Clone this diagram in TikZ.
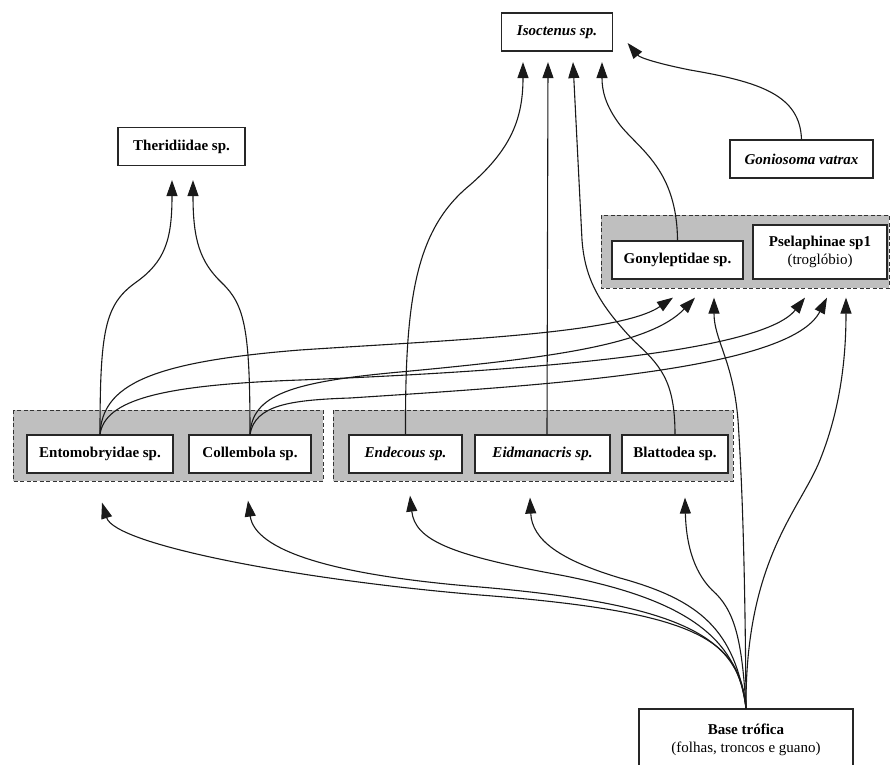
\documentclass[tikz,border=0pt]{standalone}
\usepackage{fontspec}
\setmainfont{Liberation Serif}
\usetikzlibrary{arrows.meta}

\tikzset{
  taxon/.style = {draw = black!85, fill = white, line width = 1.2pt,
    minimum height = 38pt, inner sep = 2pt, align = center,
    font = \fontsize{15}{18}\selectfont\bfseries},
  cluster/.style = {draw = black!80, fill = black!25, line width = 0.8pt,
    dash pattern = on 4pt off 2.5pt},
  edge/.style = {draw = black!90, line width = 1.1pt,
    -{Triangle[length = 16pt, width = 11pt]}}
}

\begin{document}
\begin{tikzpicture}[x = 1pt, y = -1pt]

  \useasboundingbox (0, 0) rectangle (892, 765);

  % clusters
  \draw[cluster] (13, 410) rectangle (323, 481);
  \draw[cluster] (333, 410) rectangle (733, 481);
  \draw[cluster] (601, 215) rectangle (889, 288);

  % top level
  \node[taxon, minimum width = 111pt] (isoc) at (557, 32) {\itshape Isoctenus sp.};
  \node[taxon, minimum width = 127pt] (ther) at (181.5, 146.5) {Theridiidae sp.};
  \node[taxon, minimum width = 143pt] (gonio) at (801.5, 159) {\itshape Goniosoma vatrax};

  % middle level
  \node[taxon, minimum width = 131pt] (gony) at (677.5, 260) {Gonyleptidae sp.};
  \node[taxon, minimum width = 134pt, minimum height = 54pt] (psela) at (820, 252)
    {Pselaphinae sp1\\{\mdseries (troglóbio)}};

  % lower level
  \node[taxon, minimum width = 146pt] (ento) at (100, 454) {Entomobryidae sp.};
  \node[taxon, minimum width = 122pt] (coll) at (250, 454) {Collembola sp.};
  \node[taxon, minimum width = 113pt] (ende) at (405.5, 454) {\itshape Endecous sp.};
  \node[taxon, minimum width = 135pt] (eidm) at (542.5, 454) {\itshape Eidmanacris sp.};
  \node[taxon, minimum width = 106pt] (blat) at (675, 454) {Blattodea sp.};

  % base
  \node[taxon, minimum width = 214pt, minimum height = 62pt] (base) at (746, 740)
    {Base trófica\\{\mdseries (folhas, troncos e guano)}};

  % arrow ends
  \coordinate (ther-a) at ([xshift = -9.5pt, yshift = -14pt]ther.south);
  \coordinate (ther-b) at ([xshift = 11.5pt, yshift = -14pt]ther.south);
  \coordinate (isoc-a) at ([xshift = -34pt, yshift = -10.5pt]isoc.south);
  \coordinate (isoc-b) at ([xshift = -9pt, yshift = -10.5pt]isoc.south);
  \coordinate (isoc-c) at ([xshift = 16pt, yshift = -10.5pt]isoc.south);
  \coordinate (isoc-d) at ([xshift = 45pt, yshift = -10.5pt]isoc.south);
  \coordinate (isoc-e) at ([xshift = 14.5pt, yshift = -11pt]isoc.east);
  \coordinate (gony-a) at ([xshift = -4.5pt, yshift = -18pt]gony.south);
  \coordinate (gony-b) at ([xshift = 17.5pt, yshift = -18pt]gony.south);
  \coordinate (gony-c) at ([xshift = 36.5pt, yshift = -18pt]gony.south);
  \coordinate (psela-a) at ([xshift = -15pt, yshift = -18pt]psela.south);
  \coordinate (psela-b) at ([xshift = 7pt, yshift = -18pt]psela.south);
  \coordinate (psela-c) at ([xshift = 26pt, yshift = -18pt]psela.south);
  \coordinate (ento-in) at ([xshift = 2pt, yshift = -29pt]ento.south);
  \coordinate (coll-in) at ([xshift = -2pt, yshift = -27pt]coll.south);
  \coordinate (ende-in) at ([xshift = 4.5pt, yshift = -22pt]ende.south);
  \coordinate (eidm-in) at ([xshift = -12.5pt, yshift = -24pt]eidm.south);
  \coordinate (blat-in) at ([xshift = 10pt, yshift = -24pt]blat.south);

  % to Theridiidae
  \draw[edge] (ento.north) .. controls (100, 330) and (105, 305) .. (135, 283)
    .. controls (165, 262) and (172, 240) .. (ther-a);
  \draw[edge] (coll.north) .. controls (250, 330) and (245, 305) .. (222, 283)
    .. controls (200, 262) and (193, 240) .. (ther-b);

  % to Isoctenus
  \draw[edge] (ende.north) .. controls (405, 300) and (415, 230) .. (470, 185)
    .. controls (510, 150) and (523, 120) .. (isoc-a);
  \draw[edge] ([xshift = 4.5pt]eidm.north) -- (isoc-b);
  \draw[edge] (blat.north) .. controls (675, 380) and (660, 365) .. (633, 340)
    .. controls (600, 305) and (585, 280) .. (582, 240) -- (isoc-c);
  \draw[edge] (gony.north) .. controls (677, 170) and (640, 150) .. (620, 125)
    .. controls (605, 105) and (602, 90) .. (isoc-d);
  \draw[edge] (gonio.north) .. controls (800, 95) and (760, 82) .. (690, 70)
    .. controls (660, 64) and (640, 58) .. (isoc-e);

  % to Gonyleptidae and Pselaphinae
  \draw[edge] (ento.north) .. controls (102, 385) and (150, 362) .. (300, 350)
    .. controls (450, 340) and (620, 334) .. (gony-a);
  \draw[edge] (coll.north) .. controls (252, 395) and (290, 382) .. (400, 372)
    .. controls (550, 358) and (650, 345) .. (gony-b);
  \draw[edge] (ento.north) .. controls (105, 400) and (160, 385) .. (300, 380)
    .. controls (500, 372) and (760, 355) .. (psela-a);
  \draw[edge] (coll.north) .. controls (255, 405) and (290, 400) .. (350, 398)
    .. controls (550, 385) and (790, 370) .. (psela-b);

  % from the base
  \draw[edge] (base.north) .. controls (740, 640) and (700, 612) .. (480, 595)
    .. controls (300, 580) and (115, 545) .. (ento-in);
  \draw[edge] (base.north) .. controls (740, 640) and (690, 605) .. (480, 587)
    .. controls (330, 575) and (255, 550) .. (coll-in);
  \draw[edge] (base.north) .. controls (738, 640) and (690, 600) .. (560, 575)
    .. controls (450, 555) and (415, 540) .. (ende-in);
  \draw[edge] (base.north) .. controls (735, 630) and (700, 600) .. (620, 578)
    .. controls (560, 560) and (532, 540) .. (eidm-in);
  \draw[edge] (base.north) .. controls (742, 640) and (735, 610) .. (712, 590)
    .. controls (692, 570) and (686, 540) .. (blat-in);
  \draw[edge] (base.north) .. controls (745, 560) and (742, 480) .. (738, 420)
    .. controls (733, 360) and (714, 340) .. (gony-c);
  \draw[edge] (base.north) .. controls (745, 560) and (800, 510) .. (820, 460)
    .. controls (840, 410) and (846, 360) .. (psela-c);

\end{tikzpicture}
\end{document}
